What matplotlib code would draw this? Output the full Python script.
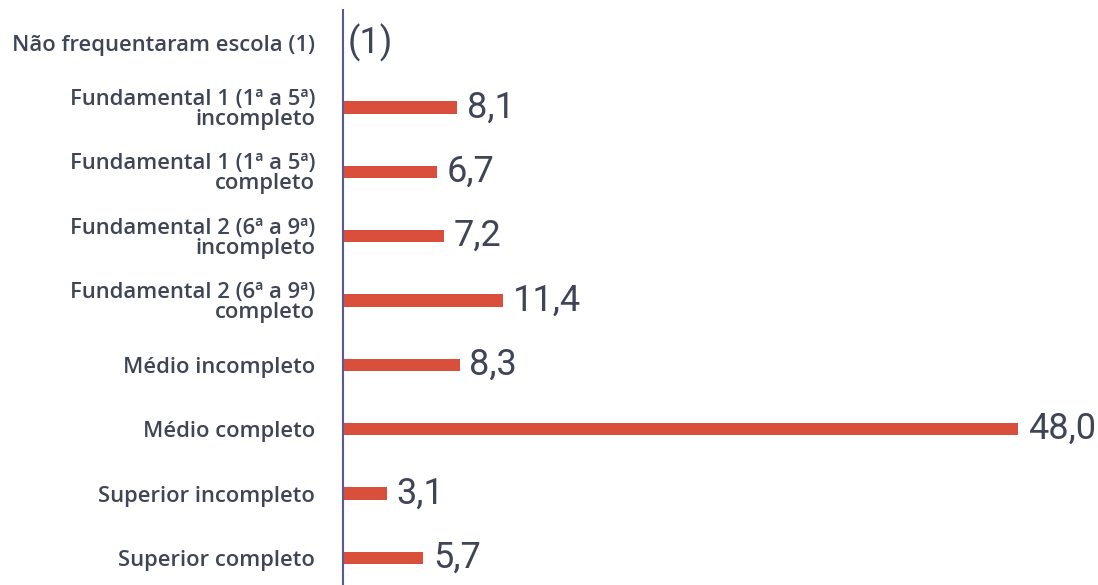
import matplotlib.pyplot as plt

categories = [
    "Não frequentaram escola (1)",
    "Fundamental 1 (1ª a 5ª)\nincompleto",
    "Fundamental 1 (1ª a 5ª)\ncompleto",
    "Fundamental 2 (6ª a 9ª)\nincompleto",
    "Fundamental 2 (6ª a 9ª)\ncompleto",
    "Médio incompleto",
    "Médio completo",
    "Superior incompleto",
    "Superior completo",
]
values = [None, 8.1, 6.7, 7.2, 11.4, 8.3, 48.0, 3.1, 5.7]
value_labels = ["(1)", "8,1", "6,7", "7,2", "11,4", "8,3", "48,0", "3,1", "5,7"]

bar_color = "#D94F3B"
text_color = "#3F4556"
axis_color = "#5B5896"

plt.rcParams['font.family'] = ['Roboto', 'DejaVu Sans']

fig = plt.figure(figsize=(10.98, 5.85), dpi=100)
ax = fig.add_axes([343 / 1098, 0, 703 / 1098, 575 / 585])

ypos = list(range(len(categories)))
for y, v in zip(ypos, values):
    if v is not None:
        ax.barh(y, v, height=0.19, color=bar_color)

# value labels; the first row has no bar, only the "(1)" note
for y, v, lab in zip(ypos, values, value_labels):
    x = v if v is not None else 0
    off = 7 if v is not None else 3
    ax.annotate(lab, (x, y), xytext=(off, 0), textcoords='offset points',
                va='center', ha='left', fontsize=26, color=text_color)

ax.set_xlim(0, 50)
ax.set_ylim(8.42, -0.513)
ax.set_yticks(ypos)
ax.set_yticklabels(categories, fontsize=15.8, color=text_color,
                   family=['Open Sans', 'DejaVu Sans'], fontweight='semibold',
                   linespacing=0.95)
ax.tick_params(axis='y', length=0, pad=20)
ax.set_xticks([])
for s in ['top', 'right', 'bottom']:
    ax.spines[s].set_visible(False)
ax.spines['left'].set_color(axis_color)
ax.spines['left'].set_linewidth(1.5)

fig.savefig("out.png", dpi=100)
